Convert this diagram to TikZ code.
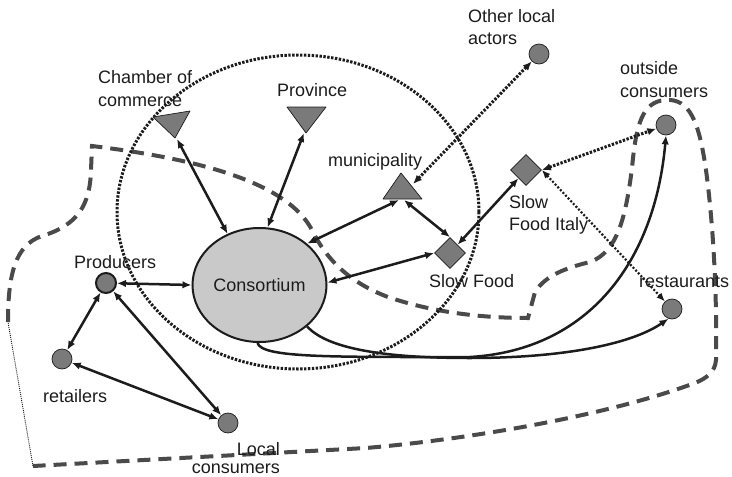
\documentclass[tikz,border=0pt]{standalone}
\usepackage{fontspec}
\setmainfont{Liberation Sans}
\usetikzlibrary{arrows.meta,shapes.geometric}
\definecolor{shape}{HTML}{7A7A7A}
\definecolor{consfill}{HTML}{C9C9C9}
\definecolor{loop}{HTML}{4A4A4A}
\definecolor{ink}{HTML}{1C1C1C}
\begin{document}
\begin{tikzpicture}[x=1pt,y=-1pt,
  lbl/.style={font=\fontsize{18pt}{23pt}\selectfont, text=ink, inner sep=0pt, anchor=base west},
  actor/.style={circle, fill=shape, draw=ink, line width=0.7pt, minimum size=20pt, inner sep=0pt},
  tri/.style={fill=shape, draw=ink, line width=0.7pt, line join=round},
  dia/.style={diamond, fill=shape, draw=ink, line width=0.7pt, minimum size=31pt, inner sep=0pt},
  link/.style={line width=2.5pt, draw=ink, {Latex[length=9pt,width=7.5pt]}-{Latex[length=9pt,width=7.5pt]}},
  flow/.style={line width=2.5pt, draw=ink, -{Latex[length=9pt,width=7.5pt]}},
  dotlink/.style={line width=3pt, draw=ink, dash pattern=on 2.4pt off 1.5pt,
    {Latex[length=9pt,width=7.5pt]}-{Latex[length=9pt,width=7.5pt]}},
  finelink/.style={line width=2.2pt, draw=ink, dash pattern=on 2pt off 1.8pt,
    {Latex[length=8.5pt,width=7pt]}-{Latex[length=8.5pt,width=7pt]}},
  ring/.style={line width=3pt, draw=ink, dash pattern=on 2.4pt off 1.5pt},
  region/.style={line width=4pt, draw=loop, dash pattern=on 13pt off 8pt},
  seam/.style={line width=0.9pt, draw=ink, dash pattern=on 1pt off 1pt}]

\useasboundingbox (0,0) rectangle (732,477);

% local network boundary
\draw[region] (8,322) .. controls (8,275) and (15,245) .. (42,236)
  .. controls (78,225) and (90,205) .. (91,170) -- (92,146)
  .. controls (190,158) and (288,180) .. (313,232)
  .. controls (326,258) and (348,282) .. (388,297)
  .. controls (432,312) and (480,318) .. (528,318) -- (535,292)
  .. controls (545,276) and (565,268) .. (590,262)
  .. controls (618,252) and (626,215) .. (632,168)
  .. controls (636,125) and (642,102) .. (665,100)
  .. controls (690,98) and (699,122) .. (706,170)
  .. controls (714,230) and (717,300) .. (716,360)
  .. controls (715,372) and (707,378) .. (695,383)
  .. controls (600,418) and (460,440) .. (366,448) -- (33,466);
\draw[seam] (33,466) -- (8,322);

% institutional ring
\draw[ring] (298,212) ellipse [x radius=181, y radius=157];

% actors
\node[ellipse, fill=consfill, draw=ink, line width=2pt, minimum width=134pt, minimum height=114pt,
  inner sep=0pt, font=\fontsize{18pt}{23pt}\selectfont, text=ink] (cons) at (259.5,285) {Consortium};
\node[actor, line width=2pt] (prod) at (106,283) {};
\node[actor] (ret) at (62,359) {};
\node[actor] (loc) at (228,423) {};
\node[actor] (other) at (539,54) {};
\node[actor] (outc) at (666,125) {};
\node[actor] (rest) at (672,309) {};
\node[dia] (sf) at (450,253) {};
\node[dia] (sfi) at (526,170) {};

\draw[tri] (153,117) -- (190,111) -- (175,138) -- cycle;
\draw[tri] (287,107) -- (326,107) -- (306,133) -- cycle;
\draw[tri] (383,199) -- (422,199) -- (401,173) -- cycle;
\coordinate (chamber) at (177,139);
\coordinate (province) at (304,133);
\coordinate (muniL) at (399,200);
\coordinate (muniR) at (404,200);
\coordinate (muniE) at (413,184);

% labels
\node[lbl] (lchamber) at (98,83) {Chamber of};
\node[lbl] (lcommerce) at (98,106) {commerce};
\node[lbl] (lprovince) at (277,96) {Province};
\node[lbl] (lmuni) at (328,166) {municipality};
\node[lbl] (lother) at (468,22) {Other local};
\node[lbl] (lactors) at (468,44) {actors};
\node[lbl] (loutside) at (620,74) {outside};
\node[lbl] (loutc) at (620,97) {consumers};
\node[lbl] (lslow) at (509,208) {Slow};
\node[lbl] (lsfi) at (509,230) {Food Italy};
\node[lbl] (lsf) at (429,287) {Slow Food};
\node[lbl] (lrest) at (639,287) {restaurants};
\node[lbl] (lprod) at (74,268) {Producers};
\node[lbl] (lret) at (43,402) {retailers};
\node[lbl, anchor=base east] (llocal) at (280,455) {Local};
\node[lbl, anchor=base east] (llocc) at (280,473) {consumers};

% solid relations
\draw[link] (chamber) -- (cons.122);
\draw[link] (province) -- (cons.82);
\draw[link] (cons.41) -- (muniL);
\draw[link] (muniR) -- (sf.north);
\draw[link] (cons.2) -- (sf.west);
\draw[link] (sf) -- (sfi);
\draw[link] (prod) -- (cons.180);
\draw[link] (prod) -- (ret);
\draw[link] (prod) -- (loc);
\draw[link] (ret) -- (loc);

% dotted relations
\draw[dotlink] (other) -- (muniE);
\draw[dotlink] (sfi.east) -- (outc);
\draw[finelink] (sfi.east) -- (rest);

% product flows
\draw[flow] (cons.268) .. controls (262,358) and (330,357) .. (470,357)
  .. controls (590,350) and (655,260) .. (outc.south);
\draw[flow] (cons.-41) .. controls (330,352) and (400,358) .. (470,358)
  .. controls (560,358) and (630,345) .. (rest.250);
\end{tikzpicture}
\end{document}
